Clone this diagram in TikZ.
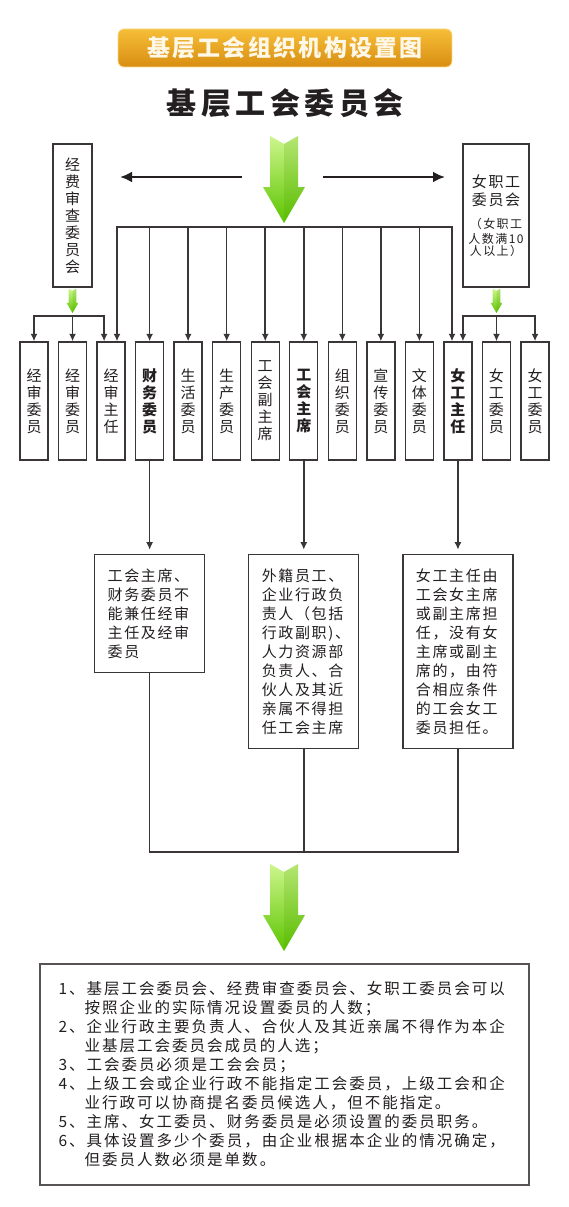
\documentclass[tikz,border=0pt]{standalone}
\usepackage{fontspec}
\setmainfont{Noto Sans CJK SC}
\usetikzlibrary{positioning, arrows.meta, calc}
\definecolor{inkgray}{RGB}{58, 53, 54}
\definecolor{textblack}{RGB}{35, 31, 32}
\definecolor{goldtop}{RGB}{246, 190, 56}
\definecolor{goldbot}{RGB}{216, 142, 18}
\definecolor{cream}{RGB}{255, 248, 232}
\definecolor{limetop}{RGB}{205, 246, 140}
\definecolor{limebot}{RGB}{92, 196, 0}

\begin{document}
\begin{tikzpicture}[x=1pt, y=-1pt,
  wire/.style={draw=inkgray, line width=1.5pt},
  droparrow/.style={wire, -{Latex[length=7.5pt, width=7pt]}},
  sidearrow/.style={draw=textblack, line width=2.5pt, -{Latex[length=12pt, width=11pt]}},
  outlined/.style={draw=inkgray, line width=1.4pt, text=textblack, inner sep=0pt, align=center},
  member/.style={outlined, minimum width=28pt, minimum height=118pt, text width=20pt,
    font=\fontsize{15}{17}\selectfont},
  memberbold/.style={member, font=\fontsize{15}{17}\selectfont\bfseries},
  notebox/.style={outlined, minimum width=110pt, text width=84pt, align=left,
    font=\fontsize{15}{19}\selectfont\addfontfeatures{LetterSpace=11}},
  banner/.style={rounded corners=6pt, minimum width=334pt, minimum height=38pt,
    top color=goldtop, bottom color=goldbot, draw=goldtop!60!white, line width=0.8pt,
    text=cream, font=\bfseries\fontsize{23}{26}\selectfont\addfontfeatures{LetterSpace=10}},
  greenarrow/.pic={
    \shade[top color=limetop, bottom color=limebot]
      (-14,-87) -- (0,-79) -- (14,-87) -- (14,-36) -- (21,-36)
      -- (0,0) -- (-21,-36) -- (-14,-36) -- cycle;
    \fill[limebot!80!black, opacity=0.18]
      (0,-79) -- (14,-87) -- (14,-36) -- (21,-36) -- (0,0) -- cycle;
  }]
\fill[white] (0,0) rectangle (569,1207);
\useasboundingbox (0,0) rectangle (569,1207);

% heading
\node[banner] (title) at (285,48) {基层工会组织机构设置图};
\node[text=textblack, font=\bfseries\fontsize{30}{34}\selectfont\addfontfeatures{LetterSpace=15}]
  (board) at (285,103) {基层工会委员会};
\pic at (284,223) {greenarrow};

% side committees
\node[outlined, minimum width=39pt, text width=20pt, minimum height=143pt,
  font=\fontsize{15}{17}\selectfont] (auditc) at (72.5,215.5) {经\\费\\审\\查\\委\\员\\会};
\node[outlined, minimum width=66pt, text width=62pt, minimum height=143pt] (womenc) at (496,215.5)
  {\fontsize{15}{18}\selectfont\addfontfeatures{LetterSpace=11}女职工\\委员会\par\vspace{9pt}
   \fontsize{12}{14.5}\selectfont\addfontfeatures{LetterSpace=12}（女职工\\人数满10\\人以上）};
\coordinate (leftfrom) at (242,177);
\coordinate (leftto) at (120,177);
\coordinate (rightfrom) at (323,177);
\coordinate (rightto) at (445,177);
\draw[sidearrow] (leftfrom) -- (leftto);
\draw[sidearrow] (rightfrom) -- (rightto);

% committee members
\foreach \i/\txt/\sty in {1/经\\审\\委\\员/member, 2/经\\审\\委\\员/member,
    3/经\\审\\主\\任/member, 4/财\\务\\委\\员/memberbold, 5/生\\活\\委\\员/member,
    6/生\\产\\委\\员/member, 7/工\\会\\副\\主\\席/member, 8/工\\会\\主\\席/memberbold,
    9/组\\织\\委\\员/member, 10/宣\\传\\委\\员/member, 11/文\\体\\委\\员/member,
    12/女\\工\\主\\任/memberbold, 13/女\\工\\委\\员/member, 14/女\\工\\委\\员/member}
  \node[\sty] (m\i) at ({34+38.54*(\i-1)},401) {\txt};

% main bus
\coordinate (busL) at (117,227);
\coordinate (busR) at (452,227);
\draw[droparrow] (busR) -- (busL) -- (busL |- m3.north);
\draw[droparrow] (busL) -- (busR) -- (busR |- m12.north);
\foreach \i in {4,...,11}
  \draw[droparrow] (m\i.north |- busL) -- (m\i.north);

% forks under the side committees
\pic[scale=0.28] at (72.5,313) {greenarrow};
\pic[scale=0.28] at (496.5,313) {greenarrow};
\coordinate (forkL) at (m2.north |- 0,316);
\coordinate (forkR) at (m13.north |- 0,316);
\draw[droparrow] (forkL) -| (m1.north);
\draw[droparrow] (forkL) -- (m2.north);
\draw[droparrow] (forkL) -| ($(m3.north)+(-7,0)$);
\draw[droparrow] (forkR) -| ($(m12.north)+(5,0)$);
\draw[droparrow] (forkR) -- (m13.north);
\draw[droparrow] (forkR) -| (m14.north);

% notes
\node[notebox, minimum height=118pt, below=93pt of m4] (n1)
  {工会主席、\\财务委员不\\能兼任经审\\主任及经审\\委员};
\node[notebox, minimum height=194pt, below=93pt of m8] (n2)
  {外籍员工、\\企业行政负\\责人（包括\\行政副职)、\\人力资源部\\负责人、合\\伙人及其近\\亲属不得担\\任工会主席};
\node[notebox, minimum height=194pt, below=93pt of m12] (n3)
  {女工主任由\\工会女主席\\或副主席担\\任，没有女\\主席或副主\\席的，由符\\合相应条件\\的工会女工\\委员担任。};
\draw[droparrow, shorten >=4pt] (m4) -- (n1);
\draw[droparrow, shorten >=4pt] (m8) -- (n2);
\draw[droparrow, shorten >=4pt] (m12) -- (n3);
\coordinate (join) at (n2.south |- 0,852);
\draw[wire] (n1.south) |- (n3.south |- join) -- (n3.south);
\draw[wire] (n2.south) -- (join);
\pic at (284,951) {greenarrow};

% rules
\node[outlined, draw=inkgray!85, line width=1.2pt, minimum width=489pt, minimum height=221pt,
  text width=452pt, align=left,
  font=\fontsize{15.5}{19}\selectfont\addfontfeatures{LetterSpace=13}] (rules) at (284.5,1074.5)
  {1、基层工会委员会、经费审查委员会、女职工委员会可以\\
   \hphantom{1、}按照企业的实际情况设置委员的人数；\\
   2、企业行政主要负责人、合伙人及其近亲属不得作为本企\\
   \hphantom{2、}业基层工会委员会成员的人选；\\
   3、工会委员必须是工会会员；\\
   4、上级工会或企业行政不能指定工会委员，上级工会和企\\
   \hphantom{4、}业行政可以协商提名委员候选人，但不能指定。\\
   5、主席、女工委员、财务委员是必须设置的委员职务。\\
   6、具体设置多少个委员，由企业根据本企业的情况确定，\\
   \hphantom{6、}但委员人数必须是单数。};
\end{tikzpicture}
\end{document}
